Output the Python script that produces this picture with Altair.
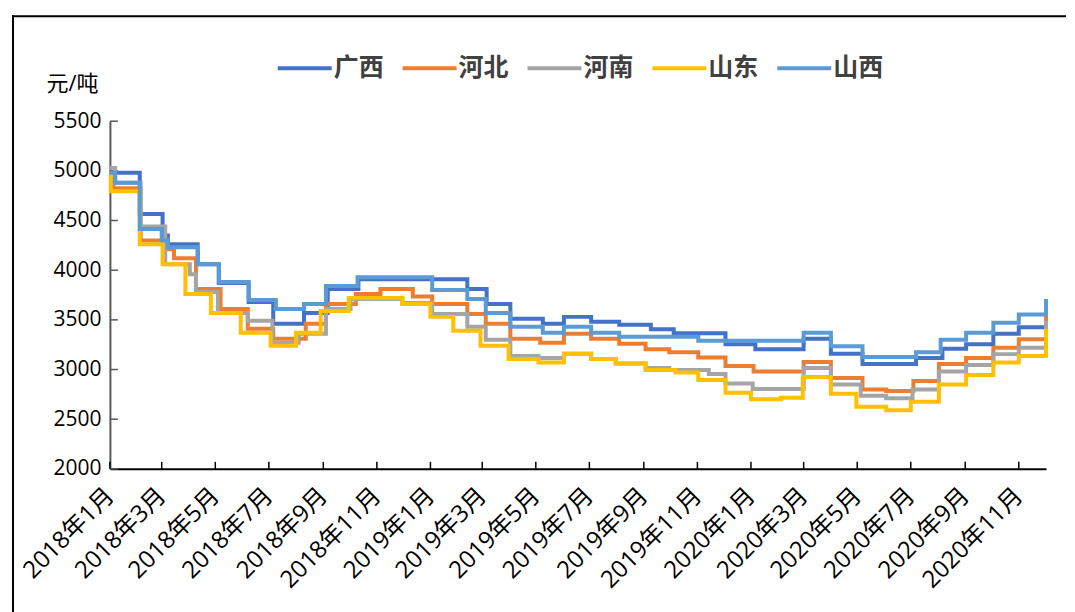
import altair as alt
import pandas as pd

series_names = ["广西", "河北", "河南", "山东", "山西"]
series_colors = ["#4472C4", "#ED7D31", "#A5A5A5", "#FFC000", "#5B9BD5"]

gx_dates = ["2018-01-01", "2018-02-04", "2018-03-02", "2018-03-08", "2018-04-11", "2018-05-05",
            "2018-06-08", "2018-07-06", "2018-08-10", "2018-09-06", "2018-10-11", "2019-02-12",
            "2019-03-06", "2019-04-02", "2019-05-09", "2019-06-02", "2019-07-03", "2019-08-04",
            "2019-09-09", "2019-10-05", "2019-12-03", "2020-01-06", "2020-03-01", "2020-04-01",
            "2020-05-07", "2020-07-07", "2020-08-06", "2020-09-02", "2020-10-03", "2020-11-01",
            "2020-12-02"]
gx_values = [4980, 4565, 4350, 4260, 4060, 3870, 3680, 3460, 3570, 3810, 3910, 3810,
             3660, 3510, 3460, 3530, 3480, 3450, 3405, 3365, 3255, 3205, 3310, 3160,
             3055, 3115, 3210, 3255, 3360, 3425, 3430]

hb_dates = ["2018-01-01", "2018-01-05", "2018-02-05", "2018-03-08", "2018-03-15", "2018-04-09",
            "2018-05-07", "2018-06-07", "2018-07-06", "2018-08-12", "2018-09-04", "2018-10-08",
            "2018-11-05", "2018-12-12", "2019-01-03", "2019-02-12", "2019-03-05", "2019-04-02",
            "2019-05-06", "2019-06-02", "2019-07-03", "2019-08-04", "2019-09-03", "2019-09-30",
            "2019-11-02", "2019-12-03", "2020-01-04", "2020-03-01", "2020-04-01", "2020-05-07",
            "2020-06-03", "2020-07-04", "2020-08-02", "2020-09-02", "2020-10-03", "2020-11-01",
            "2020-12-02"]
hb_values = [4945, 4825, 4300, 4210, 4120, 3810, 3610, 3410, 3310, 3460, 3660, 3760,
             3810, 3735, 3660, 3560, 3460, 3310, 3270, 3360, 3310, 3260, 3205, 3175,
             3120, 3035, 2980, 3075, 2915, 2800, 2785, 2885, 3055, 3115, 3220, 3305, 3560]

hn_dates = ["2018-01-01", "2018-01-07", "2018-02-05", "2018-03-05", "2018-04-02", "2018-04-09",
            "2018-05-04", "2018-06-07", "2018-07-05", "2018-08-04", "2018-09-04", "2018-10-02",
            "2018-11-30", "2019-01-03", "2019-02-12", "2019-03-05", "2019-04-02", "2019-05-04",
            "2019-06-02", "2019-07-03", "2019-07-31", "2019-09-03", "2019-09-30", "2019-11-14",
            "2019-12-03", "2020-01-03", "2020-03-01", "2020-04-01", "2020-05-05", "2020-06-03",
            "2020-07-03", "2020-08-02", "2020-09-02", "2020-10-03", "2020-11-01", "2020-12-02"]
hn_values = [5030, 4880, 4440, 4060, 3960, 3780, 3570, 3490, 3270, 3360, 3610, 3710,
             3670, 3560, 3430, 3300, 3135, 3115, 3160, 3105, 3060, 3015, 2995, 2955,
             2860, 2805, 3015, 2850, 2735, 2710, 2800, 2980, 3045, 3155, 3220, 3490]

sd_dates = ["2018-01-01", "2018-01-02", "2018-02-04", "2018-03-02", "2018-03-28", "2018-04-26",
            "2018-05-30", "2018-07-03", "2018-08-01", "2018-08-29", "2018-09-30", "2018-11-30",
            "2019-01-01", "2019-01-27", "2019-02-27", "2019-03-31", "2019-05-04", "2019-06-02",
            "2019-07-03", "2019-07-31", "2019-09-03", "2019-10-07", "2019-11-02", "2019-12-03",
            "2020-01-01", "2020-02-04", "2020-02-29", "2020-04-01", "2020-04-30", "2020-06-03",
            "2020-07-01", "2020-08-02", "2020-09-02", "2020-10-03", "2020-11-01", "2020-12-02"]
sd_values = [4965, 4795, 4260, 4060, 3760, 3570, 3370, 3240, 3370, 3590, 3720, 3660,
             3530, 3390, 3240, 3105, 3070, 3160, 3105, 3060, 2995, 2970, 2895, 2765,
             2700, 2715, 2925, 2755, 2625, 2590, 2675, 2850, 2945, 3070, 3135, 3410]

sx_dates = ["2018-01-01", "2018-01-07", "2018-02-04", "2018-03-01", "2018-03-08", "2018-04-11",
            "2018-05-05", "2018-06-08", "2018-07-09", "2018-08-10", "2018-09-04", "2018-10-10",
            "2019-01-03", "2019-02-12", "2019-03-05", "2019-04-02", "2019-05-09", "2019-06-02",
            "2019-07-03", "2019-08-04", "2019-11-02", "2020-03-01", "2020-04-01", "2020-05-07",
            "2020-07-07", "2020-08-04", "2020-09-02", "2020-10-03", "2020-11-01", "2020-12-02"]
sx_values = [4980, 4880, 4415, 4300, 4230, 4060, 3880, 3700, 3610, 3660, 3840, 3930,
             3800, 3710, 3570, 3430, 3370, 3430, 3370, 3330, 3290, 3370, 3235, 3125,
             3175, 3300, 3370, 3470, 3555, 3710]

y_ticks = [2000, 2500, 3000, 3500, 4000, 4500, 5000, 5500]
x_tick_dates = ["2018-01-01", "2018-03-01", "2018-05-01", "2018-07-01", "2018-09-01", "2018-11-01",
                "2019-01-01", "2019-03-01", "2019-05-01", "2019-07-01", "2019-09-01", "2019-11-01",
                "2020-01-01", "2020-03-01", "2020-05-01", "2020-07-01", "2020-09-01", "2020-11-01"]
unit_label = "元/吨"

rows = []
for name, dates, vals in zip(series_names,
                             [gx_dates, hb_dates, hn_dates, sd_dates, sx_dates],
                             [gx_values, hb_values, hn_values, sd_values, sx_values]):
    for d, v in zip(dates, vals):
        rows.append({"region": name, "date": d, "price": v})
df = pd.DataFrame(rows)

W, H = 937, 348
FONT = "Open Sans, Noto Sans CJK SC, sans-serif"


def dt(s):
    return alt.DateTime(year=int(s[:4]), month=int(s[5:7]), date=int(s[8:10]), utc=True)


x_enc = alt.X(
    "date:T",
    scale=alt.Scale(type="utc", domain=[dt("2018-01-01"), dt("2020-12-02")]),
    axis=alt.Axis(
        values=[dt(s) for s in x_tick_dates],
        labelExpr="utcFormat(datum.value, '%Y年%-m月')",
        labelAngle=-45, labelAlign="right", labelBaseline="middle", labelPadding=23,
        ticks=False, grid=False, domainColor="#000000", domainWidth=2,
        labelFontSize=24, labelColor="#000000", labelFont=FONT, labelOverlap=False,
        title=None,
    ),
)
y_enc = alt.Y(
    "price:Q",
    scale=alt.Scale(domain=[2000, 5500], nice=False, zero=False),
    axis=alt.Axis(
        values=y_ticks, format="d", ticks=False, grid=False, domainColor="#595959", domainWidth=2,
        labelFontSize=21, labelColor="#000000", labelFont=FONT, labelPadding=9,
        title=unit_label, titleAngle=0, titleX=-64, titleY=-38, titleAlign="left",
        titleBaseline="middle", titleFontSize=22, titleFontWeight="normal",
        titleColor="#000000", titleFont=FONT,
    ),
)

frame = alt.Chart(alt.Data(values=[{"k": 1}]))
border_top = frame.mark_rule(color="#000000", strokeWidth=2).encode(
    x=alt.value(-98), x2=alt.value(W + 20), y=alt.value(-105)
)
border_left = frame.mark_rule(color="#000000", strokeWidth=2).encode(
    x=alt.value(-97), y=alt.value(-106), y2=alt.value(H + 160)
)

ytick_rules = alt.Chart(pd.DataFrame({"price": y_ticks})).mark_rule(
    color="#595959", strokeWidth=1.5
).encode(y=y_enc, x=alt.value(0), x2=alt.value(8))

xtick_rules = alt.Chart(pd.DataFrame({"date": x_tick_dates})).mark_rule(
    color="#000000", strokeWidth=1.5
).encode(x=x_enc, y=alt.value(H), y2=alt.value(H - 7))

lines = alt.Chart(df).mark_line(interpolate="step-after", strokeWidth=4).encode(
    x=x_enc,
    y=y_enc,
    color=alt.Color(
        "region:N",
        scale=alt.Scale(domain=series_names, range=series_colors),
        sort=series_names,
        legend=alt.Legend(
            title=None, orient="none", legendX=166, legendY=-82, direction="horizontal",
            columns=5, gridAlign="all", symbolType="stroke", symbolSize=2916, symbolStrokeWidth=4,
            labelFontSize=25, labelFontWeight="bold", labelColor="#404040", labelFont=FONT,
            columnPadding=10, labelOffset=0,
        ),
    ),
)

chart = alt.layer(border_top, border_left, ytick_rules, xtick_rules, lines).properties(
    width=W, height=H, padding={"left": 3, "top": 6, "right": 0, "bottom": 0},
    background="white",
).configure_view(strokeWidth=0)

chart.save("out.html", embed_options={"renderer": "svg", "actions": False})
